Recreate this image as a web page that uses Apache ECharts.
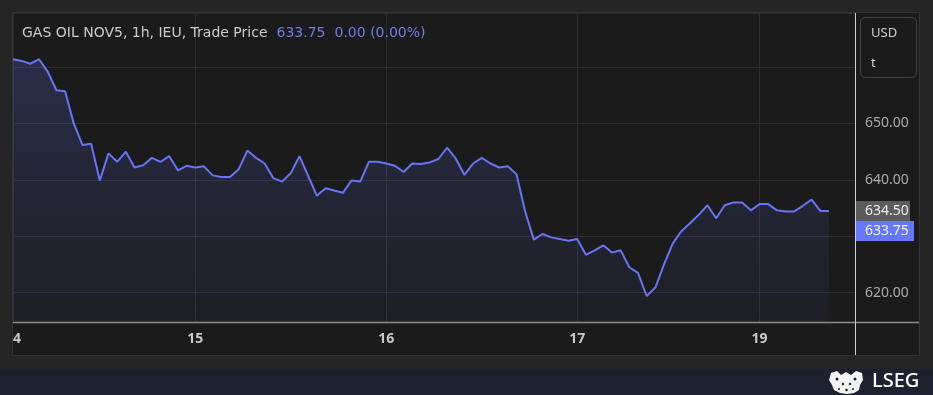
<!DOCTYPE html>
<html><head><meta charset="utf-8">
<script src="https://cdn.jsdelivr.net/npm/echarts@6/dist/echarts.min.js"></script>
<style>html,body{margin:0;padding:0;background:#252525;}#c{width:933px;height:395px;}</style>
</head><body><div id="c"></div>
<script>
// ---- data ----
const prices = [
  661.4, 661.1, 660.6, 661.4, 659.2, 655.9, 655.7, 650.0, 646.2, 646.4,
  639.9, 644.7, 643.2, 645.0, 642.2, 642.6, 643.9, 643.2, 644.2, 641.7,
  642.5, 642.2, 642.4, 640.8, 640.5, 640.5, 641.9, 645.2, 643.9, 642.9,
  640.3, 639.7, 641.2, 644.2, 640.7, 637.2, 638.5, 638.1, 637.7, 639.9,
  639.7, 643.2, 643.2, 642.9, 642.5, 641.4, 642.9, 642.8, 643.1, 643.7,
  645.7, 643.8, 640.9, 642.9, 643.9, 642.9, 642.2, 642.4, 641.0, 634.4,
  629.4, 630.4, 629.8, 629.5, 629.2, 629.5, 626.7, 627.5, 628.4, 627.1,
  627.5, 624.5, 623.5, 619.4, 620.9, 625.0, 628.7, 630.9, 632.3, 633.8,
  635.5, 633.2, 635.5, 636.0, 636.0, 634.6, 635.7, 635.7, 634.6, 634.4,
  634.4, 635.4, 636.5, 634.5, 634.5
];
const dayTickLabels = ['14', '15', '16', '17', '19'];
const dayTickIndex = [0, 21, 43, 65, 86];
const slotCount = 98;
const yTickLabels = [620, 640, 650];
const lastPrice = 634.50;
const settlePrice = 633.75;
const titleMain = 'GAS OIL NOV5, 1h, IEU, Trade Price';
const titlePrice = '633.75';
const titleChange = '0.00 (0.00%)';
const unitLines = ['USD', 't'];
const brand = 'LSEG';

// ---- build ----
const categories = Array.from({length: slotCount}, (_, i) => {
  const k = dayTickIndex.indexOf(i);
  return k >= 0 ? dayTickLabels[k] : '';
});
const isTick = (i) => dayTickIndex.indexOf(i) >= 0;
const FONT = 'Noto Sans';
const TFONT = 'DejaVu Sans';

const chart = echarts.init(document.getElementById('c'), null, {renderer: 'canvas'});

const baseGraphic = [
  // panel
  {type: 'rect', z: -100, shape: {x: 13, y: 13, width: 906, height: 342}, style: {fill: '#1b1b1b'}},
  // bottom band
  {type: 'rect', z: 100, shape: {x: 0, y: 369, width: 933, height: 26}, style: {fill: '#1e2230'}},
  // left clip for cut-off label
  {type: 'rect', z: 100, shape: {x: 0, y: 300, width: 13, height: 60}, style: {fill: '#252525'}},
  // panel border
  {type: 'rect', z: 101, shape: {x: 12.5, y: 12.5, width: 907, height: 343}, style: {fill: null, stroke: '#333333', lineWidth: 1}},
  // bottom axis line (full width)
  {type: 'line', z: 100, shape: {x1: 13, y1: 322.5, x2: 919, y2: 322.5}, style: {stroke: '#8c8c8c', lineWidth: 1.5}},
  // right axis line
  {type: 'line', z: 100, shape: {x1: 855.5, y1: 13, x2: 855.5, y2: 355}, style: {stroke: '#cfcfcf', lineWidth: 1}},
  // title
  {type: 'text', z: 100, x: 22, y: 33, style: {
    text: '{a|' + titleMain + '}{g|}{b|' + titlePrice + '}{g|}{b|' + titleChange + '}',
    verticalAlign: 'middle',
    rich: {
      a: {fontFamily: TFONT, fontSize: 14, fill: '#cccccc'},
      b: {fontFamily: TFONT, fontSize: 14, fill: '#6e7fe6'},
      g: {width: 9}
    }
  }},
  // unit box
  {type: 'rect', z: 100, shape: {x: 860.5, y: 17.5, width: 56, height: 60, r: 5}, style: {fill: null, stroke: '#444444', lineWidth: 1}},
  {type: 'text', z: 100, x: 871, y: 33, style: {text: unitLines[0], verticalAlign: 'middle', fontFamily: FONT, fontSize: 13, fill: '#d0d0d0'}},
  {type: 'text', z: 100, x: 871, y: 63, style: {text: unitLines[1], verticalAlign: 'middle', fontFamily: FONT, fontSize: 13, fill: '#d0d0d0'}},
  // brand
  {type: 'text', z: 102, x: 872, y: 381, style: {text: brand, verticalAlign: 'middle', fontFamily: FONT, fontSize: 20, fontWeight: 500, fill: '#ffffff'}},
  {type: 'group', z: 102, x: 829, y: 371, children: [
    {type: 'polygon', z: 102, shape: {points: [[2,2],[8,0],[12,4],[17,1],[22,4],[27,0],[33,2],[34,9],[31,14],[30,19],[25,22],[18,23],[11,22],[5,19],[3,14],[0,9]]}, style: {fill: '#f2f2f2'}},
    {type: 'circle', z: 103, shape: {cx: 8, cy: 8, r: 1.5}, style: {fill: '#1e2230'}},
    {type: 'circle', z: 103, shape: {cx: 26, cy: 8, r: 1.5}, style: {fill: '#1e2230'}},
    {type: 'circle', z: 103, shape: {cx: 14, cy: 13, r: 1.2}, style: {fill: '#1e2230'}},
    {type: 'circle', z: 103, shape: {cx: 21, cy: 13, r: 1.2}, style: {fill: '#1e2230'}},
    {type: 'circle', z: 103, shape: {cx: 10, cy: 18, r: 1}, style: {fill: '#1e2230'}},
    {type: 'circle', z: 103, shape: {cx: 24, cy: 18, r: 1}, style: {fill: '#1e2230'}},
    {type: 'circle', z: 103, shape: {cx: 17.5, cy: 19, r: 1.3}, style: {fill: '#1e2230'}}
  ]}
];

chart.setOption({
  backgroundColor: '#252525',
  animation: false,
  grid: {left: 13, right: 78, top: 13, bottom: 72.5, containLabel: false},
  xAxis: {
    type: 'category',
    data: categories,
    boundaryGap: false,
    axisLine: {show: false},
    axisTick: {show: false},
    axisLabel: {interval: (i) => isTick(i), color: '#c8c8c8', fontFamily: FONT, fontSize: 14, fontWeight: 'bold', margin: 10},
    splitLine: {show: true, interval: (i) => isTick(i), lineStyle: {color: '#2d2d2d', width: 1}}
  },
  yAxis: {
    type: 'value',
    position: 'right',
    min: 614.7,
    max: 669.6,
    splitNumber: 5,
    axisLine: {show: false},
    axisTick: {show: false},
    axisLabel: {
      margin: 10, color: '#ababab', fontFamily: FONT, fontSize: 14,
      showMinLabel: false, showMaxLabel: false,
      formatter: (v) => yTickLabels.indexOf(Math.round(v * 100) / 100) >= 0 ? v.toFixed(2) : ''
    },
    splitLine: {show: true, lineStyle: {color: '#2d2d2d', width: 1}}
  },
  series: [{
    type: 'line',
    data: prices,
    showSymbol: false,
    symbol: 'none',
    lineStyle: {color: '#6575f4', width: 2},
    itemStyle: {color: '#6575f4'},
    areaStyle: {
      color: new echarts.graphic.LinearGradient(0, 0, 0, 1, [
        {offset: 0, color: 'rgba(98,112,236,0.30)'},
        {offset: 1, color: 'rgba(98,112,236,0.06)'}
      ])
    }
  }],
  graphic: baseGraphic
});

// price labels on the axis, placed through the axis scale
const yLast = chart.convertToPixel({yAxisIndex: 0}, lastPrice);
const ySettle = chart.convertToPixel({yAxisIndex: 0}, settlePrice);
const grayTop = Math.round(yLast - 10);
const blueTop = Math.max(Math.round(ySettle - 10), grayTop + 20);
chart.setOption({
  graphic: baseGraphic.concat([
    {type: 'rect', z: 100, shape: {x: 856, y: grayTop, width: 54, height: 20}, style: {fill: '#5b5b5b'}},
    {type: 'text', z: 101, x: 865, y: grayTop + 10, style: {text: lastPrice.toFixed(2), verticalAlign: 'middle', fontFamily: FONT, fontSize: 14, fill: '#eeeeee'}},
    {type: 'rect', z: 100, shape: {x: 856, y: blueTop, width: 58, height: 20}, style: {fill: '#6478fb'}},
    {type: 'text', z: 101, x: 865, y: blueTop + 10, style: {text: settlePrice.toFixed(2), verticalAlign: 'middle', fontFamily: FONT, fontSize: 14, fill: '#f4f4f4'}}
  ])
}, {replaceMerge: ['graphic']});
</script>
</body></html>
